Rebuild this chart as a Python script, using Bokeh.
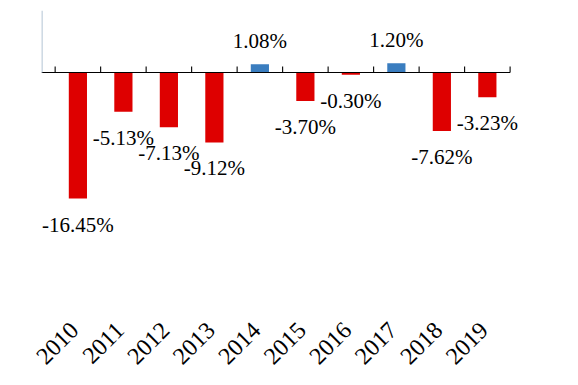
from bokeh.plotting import figure
from bokeh.models import ColumnDataSource, Range1d, FixedTicker
from bokeh.core.properties import value
from bokeh.embed import file_html
from bokeh.resources import INLINE
import math

years = ["2010", "2011", "2012", "2013", "2014", "2015", "2016", "2017", "2018", "2019"]
values = [-16.45, -5.13, -7.13, -9.12, 1.08, -3.70, -0.30, 1.20, -7.62, -3.23]
labels = ["-16.45%", "-5.13%", "-7.13%", "-9.12%", "1.08%", "-3.70%", "-0.30%", "1.20%", "-7.62%", "-3.23%"]

RED = "#DE0000"
BLUE = "#3A7DBF"
FONT = "Liberation Serif"

n = len(years)
xs = [i + 0.5 for i in range(n)]
colors = [BLUE if v > 0 else RED for v in values]
offsets = [-23 if v > 0 else 26 for v in values]

src = ColumnDataSource(dict(x=xs, top=values, color=colors, label=labels, off=offsets))

x0, x_axis_end, x1 = -0.3, 10.0, 10.8
y0, y1 = -32.1, 8.1
FRAME_H = 308
UNIT_W = 45.5
LABEL_SHIFT = -0.07

p = figure(frame_width=int(round((x1 - x0) * UNIT_W)), frame_height=FRAME_H,
           output_backend="svg", toolbar_location=None,
           x_range=Range1d(x0, x1), y_range=Range1d(y0, y1),
           min_border_left=41, min_border_top=10, min_border_right=5, min_border_bottom=0)
p.outline_line_color = None
p.xgrid.visible = False
p.ygrid.visible = False
p.yaxis.visible = False

p.vbar(x="x", top="top", bottom=0, width=0.4, fill_color="color", line_color=None, source=src)

# zero line and category boundary ticks
p.segment(x0=[x0], y0=[0], x1=[x_axis_end], y1=[0], line_color="black", line_width=1.1)
tick_h = 6 / (FRAME_H / (y1 - y0))
bounds = list(range(n + 1))
p.segment(x0=bounds, y0=[0] * len(bounds), x1=bounds, y1=[tick_h] * len(bounds),
          line_color="black", line_width=1.1)
# left vertical axis line (positive part)
p.segment(x0=[x0 + 0.01], y0=[0], x1=[x0 + 0.01], y1=[y1], line_color="#A9BCCF", line_width=1.2)

p.text(x="x", y="top", text="label", y_offset="off", source=src,
       text_align="center", text_baseline="middle",
       text_font=value(FONT), text_font_size="21px", text_color="black")

tick_pos = [x + LABEL_SHIFT for x in xs]
ax = p.xaxis[0]
ax.ticker = FixedTicker(ticks=tick_pos)
ax.major_label_overrides = {t: y for t, y in zip(tick_pos, years)}
ax.major_label_orientation = math.pi / 4
ax.axis_line_color = None
ax.major_tick_line_color = None
ax.minor_tick_line_color = None
ax.major_label_text_font = FONT
ax.major_label_text_font_size = "24px"
ax.major_label_text_color = "black"
ax.major_label_standoff = 2

open("out.html", "w").write(file_html(p, INLINE))
